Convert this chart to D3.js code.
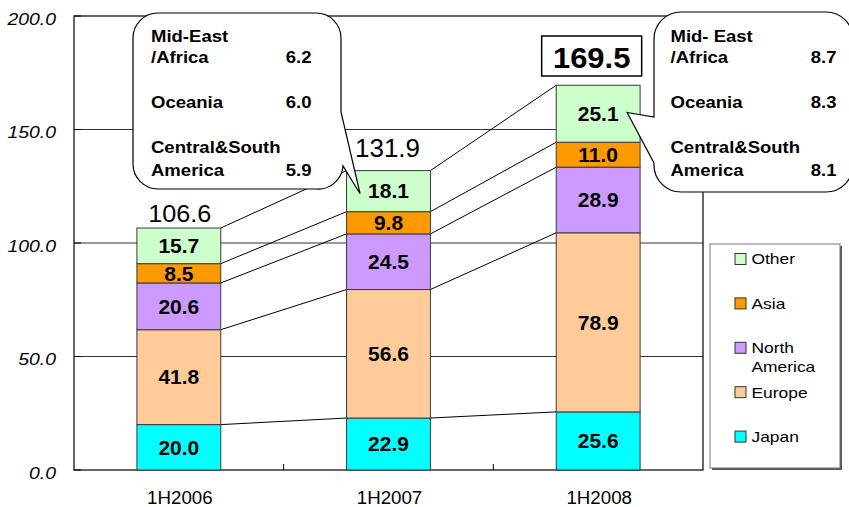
<!DOCTYPE html>
<html>
<head>
<meta charset="utf-8">
<script src="https://cdn.jsdelivr.net/npm/d3@7/dist/d3.min.js"></script>
<style>
  html, body { margin: 0; padding: 0; background: #fff; }
  svg { display: block; font-family: "Liberation Sans", Arial, sans-serif; }
</style>
</head>
<body>
<svg id="chart" width="849" height="507"></svg>
<script>
// ---------------- DATA ----------------
const categories = ["1H2006", "1H2007", "1H2008"];
const seriesNames = ["Japan", "Europe", "North America", "Asia", "Other"];
const japan = [20.0, 22.9, 25.6];
const europe = [41.8, 56.6, 78.9];
const northAmerica = [20.6, 24.5, 28.9];
const asia = [8.5, 9.8, 11.0];
const other = [15.7, 18.1, 25.1];
const totals = [106.6, 131.9, 169.5];
const yTicks = [0, 50, 100, 150, 200];
const yTickLabels = ["0.0", "50.0", "100.0", "150.0", "200.0"];
const callout2007Labels = [["Mid-East", "/Africa"], ["Oceania"], ["Central&South", "America"]];
const callout2007Values = [6.2, 6.0, 5.9];
const callout2008Labels = [["Mid- East", "/Africa"], ["Oceania"], ["Central&South", "America"]];
const callout2008Values = [8.7, 8.3, 8.1];
const legendNames = ["Other", "Asia", "North America", "Europe", "Japan"];
const legendLines = [["Other"], ["Asia"], ["North", "America"], ["Europe"], ["Japan"]];

const colors = {
  "Japan": "#00FFFF",
  "Europe": "#FFCC99",
  "North America": "#CC99FF",
  "Asia": "#FF9900",
  "Other": "#CCFFCC"
};

// ---------------- LAYOUT ----------------
const svg = d3.select("#chart");
const frame = { left: 74, right: 703, top: 16, bottom: 470 };

const y = d3.scaleLinear().domain([0, 200]).range([frame.bottom, frame.top]);
const x = d3.scaleBand().domain(categories).range([frame.left, frame.right]).padding(0);
const barW = x.bandwidth() * 0.4;
const barX = c => x(c) + (x.bandwidth() - barW) / 2;
const barC = c => x(c) + x.bandwidth() / 2;

// stretched text helper (reference fonts are a bit wider than Arial)
function txt(g, px, py, str, o) {
  o = o || {};
  return g.append("text")
    .attr("transform", `translate(${px},${py}) scale(${o.sx || 1},1)`)
    .attr("text-anchor", o.anchor || "start")
    .attr("font-size", o.size || 14)
    .attr("font-weight", o.weight || "normal")
    .attr("font-style", o.style || "normal")
    .attr("fill", "#000")
    .text(str);
}

// rows for stack
const rows = categories.map((c, i) => ({
  cat: c,
  "Japan": japan[i],
  "Europe": europe[i],
  "North America": northAmerica[i],
  "Asia": asia[i],
  "Other": other[i]
}));
const stacked = d3.stack().keys(seriesNames)(rows);

// ---------------- GRID + FRAME ----------------
const grid = svg.append("g");
grid.selectAll("line.grid")
  .data(yTicks.filter(t => t > 0 && t < 200))
  .join("line")
  .attr("x1", frame.left).attr("x2", frame.right)
  .attr("y1", d => y(d)).attr("y2", d => y(d))
  .attr("stroke", "#333").attr("stroke-width", 1);

grid.append("rect")
  .attr("x", frame.left).attr("y", frame.top)
  .attr("width", frame.right - frame.left).attr("height", frame.bottom - frame.top)
  .attr("fill", "none").attr("stroke", "#000").attr("stroke-width", 1.2);

// y tick marks (inside)
grid.selectAll("line.ytick")
  .data(yTicks)
  .join("line")
  .attr("x1", frame.left).attr("x2", frame.left + 7)
  .attr("y1", d => y(d)).attr("y2", d => y(d))
  .attr("stroke", "#000");

// x tick marks at category boundaries
grid.selectAll("line.xtick")
  .data(categories.slice(1))
  .join("line")
  .attr("x1", d => x(d)).attr("x2", d => x(d))
  .attr("y1", frame.bottom).attr("y2", frame.bottom - 6)
  .attr("stroke", "#000");

// y labels
const yl = svg.append("g");
yTicks.forEach((t, i) => {
  txt(yl, 56, y(t) + 8.8, yTickLabels[i], { size: 17, style: "italic", anchor: "end", sx: 1.14 });
});

// x labels
const xl = svg.append("g");
categories.forEach(c => {
  txt(xl, barC(c) + 1, 503.5, c, { size: 18, anchor: "middle", sx: 1.04 });
});

// ---------------- CONNECTORS ----------------
const conn = svg.append("g");
stacked.forEach(layer => {
  for (let i = 0; i < categories.length - 1; i++) {
    conn.append("line")
      .attr("x1", barX(categories[i]) + barW)
      .attr("y1", y(layer[i][1]))
      .attr("x2", barX(categories[i + 1]))
      .attr("y2", y(layer[i + 1][1]))
      .attr("stroke", "#000").attr("stroke-width", 1);
  }
});

// ---------------- BARS ----------------
const bars = svg.append("g");
stacked.forEach(layer => {
  bars.selectAll(null)
    .data(layer)
    .join("rect")
    .attr("x", d => barX(d.data.cat))
    .attr("y", d => y(d[1]))
    .attr("width", barW)
    .attr("height", d => y(d[0]) - y(d[1]))
    .attr("fill", colors[layer.key])
    .attr("stroke", "#3a3a3a")
    .attr("stroke-width", 1);
});

// segment labels
const segL = svg.append("g");
stacked.forEach(layer => {
  layer.forEach(d => {
    const cy = (y(d[0]) + y(d[1])) / 2;
    txt(segL, barC(d.data.cat), cy + 7.2, (d[1] - d[0]).toFixed(1),
      { size: 20, weight: "bold", anchor: "middle", sx: 1.05 });
  });
});

// ---------------- TOTALS ----------------
const tot = svg.append("g");
txt(tot, barC(categories[0]) + 1, y(totals[0]) - 6, totals[0].toFixed(1),
  { size: 24.5, anchor: "middle", sx: 1.03 });
txt(tot, barC(categories[1]) - 1, y(totals[1]) - 13.3, totals[1].toFixed(1),
  { size: 25, anchor: "middle", sx: 1.04 });
// boxed total for last bar
const bx = barC(categories[2]) - 6.5;
tot.append("rect")
  .attr("x", bx - 50).attr("y", 36).attr("width", 100).attr("height", 40)
  .attr("fill", "#fff").attr("stroke", "#000").attr("stroke-width", 1.5);
txt(tot, bx, 67.7, totals[2].toFixed(1), { size: 29.5, weight: "bold", anchor: "middle", sx: 1.05 });

// ---------------- CALLOUTS ----------------
const co = svg.append("g");
// callout 1 (tail on the right, pointing into 1H2007 "Other")
(function () {
  const L = 133, T = 13, R = 341, B = 189, r = 25;
  const tipX = barX(categories[1]) + 13.5, tipY = y(121.7);
  const p = `M${L + r},${T} H${R - r} A${r},${r} 0 0 1 ${R},${T + r} V112 L${tipX},${tipY} L${R + 2},${B - r + 2}
    A${r},${r} 0 0 1 ${R - r},${B} H${L + r} A${r},${r} 0 0 1 ${L},${B - r} V${T + r} A${r},${r} 0 0 1 ${L + r},${T} Z`;
  co.append("path").attr("d", p).attr("fill", "#fff").attr("stroke", "#000").attr("stroke-width", 1.2);
})();
// callout 2 (tail on the left, pointing into 1H2008 "Other")
(function () {
  const L = 654, T = 12, R = 853, B = 192, r = 27;
  const tipX = barX(categories[2]) + barW - 13, tipY = y(157.5);
  const p = `M${L + r},${T} H${R - r} A${r},${r} 0 0 1 ${R},${T + r} V${B - r} A${r},${r} 0 0 1 ${R - r},${B}
    H${L + r} A${r},${r} 0 0 1 ${L},${B - r} L${L},163 L${tipX},${tipY} L${L},117 V${T + r} A${r},${r} 0 0 1 ${L + r},${T} Z`;
  co.append("path").attr("d", p).attr("fill", "#fff").attr("stroke", "#000").attr("stroke-width", 1.2);
})();

function calloutText(labels, values, lx, vx) {
  const g = svg.append("g");
  const base = [[42, 63], [108], [153, 176]];
  labels.forEach((lines, i) => {
    lines.forEach((ln, j) => {
      txt(g, lx, base[i][j], ln, { size: 17, weight: "bold", sx: 1.09 });
    });
    txt(g, vx, base[i][lines.length - 1], values[i].toFixed(1), { size: 17, weight: "bold", anchor: "end", sx: 1.09 });
  });
}
calloutText(callout2007Labels, callout2007Values, 151, 311.5);
calloutText(callout2008Labels, callout2008Values, 670.5, 836.5);

// ---------------- LEGEND ----------------
const lg = svg.append("g");
// shadow
lg.append("rect").attr("x", 712).attr("y", 246).attr("width", 130).attr("height", 224).attr("fill", "#555");
lg.append("rect").attr("x", 710).attr("y", 244).attr("width", 130).attr("height", 224)
  .attr("fill", "#fff").attr("stroke", "#777").attr("stroke-width", 1);
legendNames.forEach((name, i) => {
  const cy = 259 + i * 44.4;
  lg.append("rect").attr("x", 735).attr("y", cy - 5.5).attr("width", 11).attr("height", 11)
    .attr("fill", colors[name]).attr("stroke", "#333").attr("stroke-width", 1);
  legendLines[i].forEach((ln, j) => {
    txt(lg, 751.5, cy + 5.4 + j * 19, ln, { size: 15, sx: 1.16 });
  });
});
</script>
</body>
</html>
